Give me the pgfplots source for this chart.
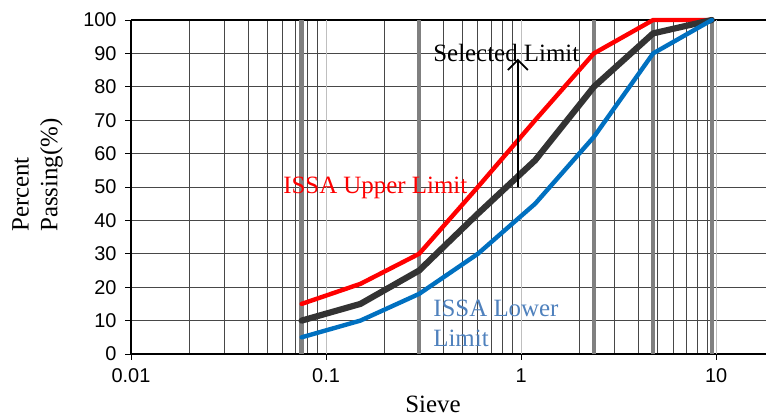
\documentclass[border=0pt]{standalone}
\usepackage{pgfplots}
\pgfplotsset{compat=1.18}
\usepackage{fontspec}
\setmainfont{Liberation Serif}
\newfontfamily\arialfont{Liberation Sans}
\usetikzlibrary{arrows.meta}

\definecolor{upperred}{RGB}{255,0,0}
\definecolor{seldark}{RGB}{51,51,51}
\definecolor{lowerblue}{RGB}{0,112,192}
\definecolor{labelblue}{RGB}{79,129,189}
\definecolor{sievegray}{RGB}{128,128,128}

\begin{document}
\begin{tikzpicture}
\begin{axis}[
  name=ax,
  xmode=log,
  scale only axis,
  width=635bp, height=334bp,
  xmin=0.01, xmax=18, ymin=0, ymax=100,
  axis x line=box, axis y line=left,
  axis line style={-, black, line width=1.8bp},
  xtick={0.01,0.1,1,10},
  xticklabels={0.01,0.1,1,10},
  ytick={0,10,...,100},
  xtick pos=bottom, ytick pos=left,
  tick align=outside,
  major tick length=6bp,
  minor tick length=0pt,
  tick style={black, line width=0.8bp},
  /pgf/number format/assume math mode=true,
  ticklabel style={font=\arialfont\fontsize{20}{22}\selectfont},
  xticklabel style={yshift=-5bp},
  yticklabel style={xshift=-5bp},
  xmajorgrids=false, xminorgrids=true, ymajorgrids=true,
  minor grid style={black!72, line width=0.8bp},
  major grid style={black!72, line width=0.8bp},
  clip=false,
]
% light decade lines
\pgfplotsinvokeforeach{0.1,1,10}{
  \addplot[black!25, line width=0.9bp, forget plot] coordinates {(#1,0) (#1,100)};
}
% standard sieve sizes
\pgfplotsinvokeforeach{0.075,0.3,2.36,4.75,9.5}{
  \addplot[sievegray, line width=4.5bp, forget plot] coordinates {(#1,0) (#1,100)};
}
% ISSA upper limit
\addplot[upperred, line width=4.4bp, line cap=round, line join=round] coordinates {
  (0.075,15) (0.15,21) (0.3,30) (0.6,50) (1.18,70) (2.36,90) (4.75,100) (9.5,100)};
% selected gradation
\addplot[seldark, line width=6.2bp, line cap=round, line join=round] coordinates {
  (0.075,10) (0.15,15) (0.3,25) (0.6,42) (1.18,58) (2.36,80) (4.75,96) (9.5,100)};
% ISSA lower limit
\addplot[lowerblue, line width=4.4bp, line cap=round, line join=round] coordinates {
  (0.075,5) (0.15,10) (0.3,18) (0.6,30) (1.18,45) (2.36,65) (4.75,90) (9.5,100)};
% arrow pointing at the selected limit label
\addplot[black, line width=1.8bp, -{Straight Barb[length=10bp,width=20bp,line width=1.8bp]}] coordinates {(0.962,50) (0.962,88.4)};

\node[anchor=base west, inner sep=0, font=\fontsize{25}{30}\selectfont] at (axis cs:0.354,87.6) {Selected Limit};
\node[anchor=base west, inner sep=0, text=upperred, font=\fontsize{25}{30}\selectfont] at (axis cs:0.0602,48.2) {ISSA Upper Limit};
\node[anchor=base west, inner sep=0, text=labelblue, font=\fontsize{25}{30}\selectfont] at (axis cs:0.354,11.1) {ISSA Lower};
\node[anchor=base west, inner sep=0, text=labelblue, font=\fontsize{25}{30}\selectfont] at (axis cs:0.354,2.1) {Limit};
\end{axis}
\node[rotate=90, align=left, anchor=north west, inner sep=0, font=\fontsize{25}{29}\selectfont] at ([xshift=-119bp, yshift=122bp]ax.south west) {Percent\\Passing(\%)};
\node[anchor=base, inner sep=0, font=\fontsize{25}{30}\selectfont] at ([xshift=302bp, yshift=-58bp]ax.south west) {Sieve};
\pgfresetboundingbox
\path[use as bounding box] ([xshift=-131bp, yshift=-63bp]ax.south west) rectangle ([yshift=20bp]ax.north east);
\end{tikzpicture}
\end{document}
